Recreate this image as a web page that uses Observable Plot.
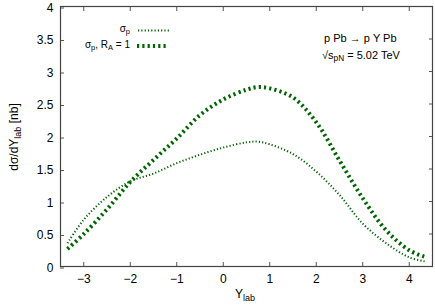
<!DOCTYPE html>
<html><head><meta charset="utf-8">
<script src="https://cdn.jsdelivr.net/npm/d3@7"></script>
<script src="https://cdn.jsdelivr.net/npm/@observablehq/plot@0.6"></script>
<style>
body{margin:0;background:#fff}
#chart{position:relative;width:435px;height:307px}
svg text{font-family:"Liberation Sans",Arial,sans-serif}
</style>
</head><body><div id="chart"></div>
<script>
// rapidity values (Y_lab)
const yLab = [-3.35, -3.0, -2.5, -2.0, -1.5, -1.0, -0.5, 0.0, 0.5, 0.75, 1.0, 1.5, 2.0, 2.5, 3.0, 3.5, 4.0, 4.33];
// sigma_p
const sigmaP = [0.36, 0.72, 1.07, 1.31, 1.43, 1.59, 1.72, 1.83, 1.91, 1.92, 1.88, 1.73, 1.46, 1.10, 0.66, 0.36, 0.14, 0.08];
// sigma_p with R_A = 1
const sigmaPRA1 = [0.27, 0.50, 0.88, 1.30, 1.64, 1.97, 2.33, 2.57, 2.72, 2.76, 2.74, 2.60, 2.22, 1.63, 1.05, 0.56, 0.25, 0.15];
const xTicks = [-3, -2, -1, 0, 1, 2, 3, 4];
const yTicks = [0, 0.5, 1, 1.5, 2, 2.5, 3, 3.5, 4];
const yTickLabels = ["0", "0.5", "1", "1.5", "2", "2.5", "3", "3.5", "4"];

const green = "#006400";
const thinDash = "1.2,2.1";
const thickDash = "2.2,3.1";
const thin = yLab.map((x, i) => ({x, y: sigmaP[i]}));
const thick = yLab.map((x, i) => ({x, y: sigmaPRA1[i]}));

const chart = Plot.plot({
  width: 435, height: 307,
  marginLeft: 60, marginRight: 3, marginTop: 6, marginBottom: 41,
  style: {fontFamily: "Liberation Sans, Arial, sans-serif", fontSize: "12px", color: "#000", background: "#fff"},
  x: {domain: [-3.5, 4.5]},
  y: {domain: [0, 4]},
  marks: [
    Plot.axisX(xTicks, {anchor: "bottom", tickSize: -4, tickPadding: 12, label: null, stroke: "#555", fill: "#000", fontSize: 12}),
    Plot.axisX(xTicks, {anchor: "top", tickSize: -4, tickFormat: () => "", label: null, stroke: "#555"}),
    Plot.axisY(yTicks, {anchor: "left", tickSize: -4, tickPadding: 11, dy: 1.5, tickFormat: (d) => yTickLabels[yTicks.indexOf(d)], label: null, stroke: "#555", fill: "#000", fontSize: 12}),
    Plot.axisY(yTicks, {anchor: "right", tickSize: -4, tickFormat: () => "", label: null, stroke: "#555"}),
    Plot.frame({stroke: "#444", strokeWidth: 1.2}),
    Plot.line(thin, {x: "x", y: "y", stroke: green, strokeWidth: 2, strokeDasharray: thinDash, strokeLinecap: "butt", curve: "catmull-rom"}),
    Plot.line(thick, {x: "x", y: "y", stroke: green, strokeWidth: 4, strokeDasharray: thickDash, strokeLinecap: "butt", curve: "catmull-rom"})
  ]
});
document.getElementById("chart").appendChild(chart);

const svg = d3.select(chart);
const font = "Liberation Sans, Arial, sans-serif";
function addText(x, y, parts, opts = {}) {
  const t = svg.append("text").attr("x", x).attr("y", y)
    .attr("font-family", font).attr("font-size", opts.size || 10).attr("fill", "#000")
    .attr("text-anchor", opts.anchor || "start");
  if (opts.rotate) t.attr("transform", `rotate(-90 ${x} ${y})`);
  for (const p of parts) {
    const s = t.append("tspan").text(p.t);
    if (p.sub) s.attr("baseline-shift", "-30%").attr("font-size", (opts.size || 10) * 0.75);
  }
  return t;
}
// legend
addText(130, 32, [{t: "σ"}, {t: "p", sub: true}], {anchor: "end"});
addText(130, 48, [{t: "σ"}, {t: "p", sub: true}, {t: ", R"}, {t: "A", sub: true}, {t: " = 1"}], {anchor: "end"});
svg.append("line").attr("x1", 138).attr("x2", 170).attr("y1", 30.5).attr("y2", 30.5)
  .attr("stroke", green).attr("stroke-width", 2).attr("stroke-dasharray", thinDash);
svg.append("line").attr("x1", 137).attr("x2", 168).attr("y1", 46).attr("y2", 46)
  .attr("stroke", green).attr("stroke-width", 4).attr("stroke-dasharray", thickDash);
// annotation
addText(324, 42, [{t: "p Pb → p Υ Pb"}], {size: 11});
addText(322, 59, [{t: "√s"}, {t: "pN", sub: true}, {t: " = 5.02 TeV"}], {size: 11});
// axis labels
addText(235, 298, [{t: "Y"}, {t: "lab", sub: true}], {size: 12});
addText(18, 137, [{t: "dσ/dY"}, {t: "lab", sub: true}, {t: " [nb]"}], {size: 12, anchor: "middle", rotate: true});
</script>
</body></html>
